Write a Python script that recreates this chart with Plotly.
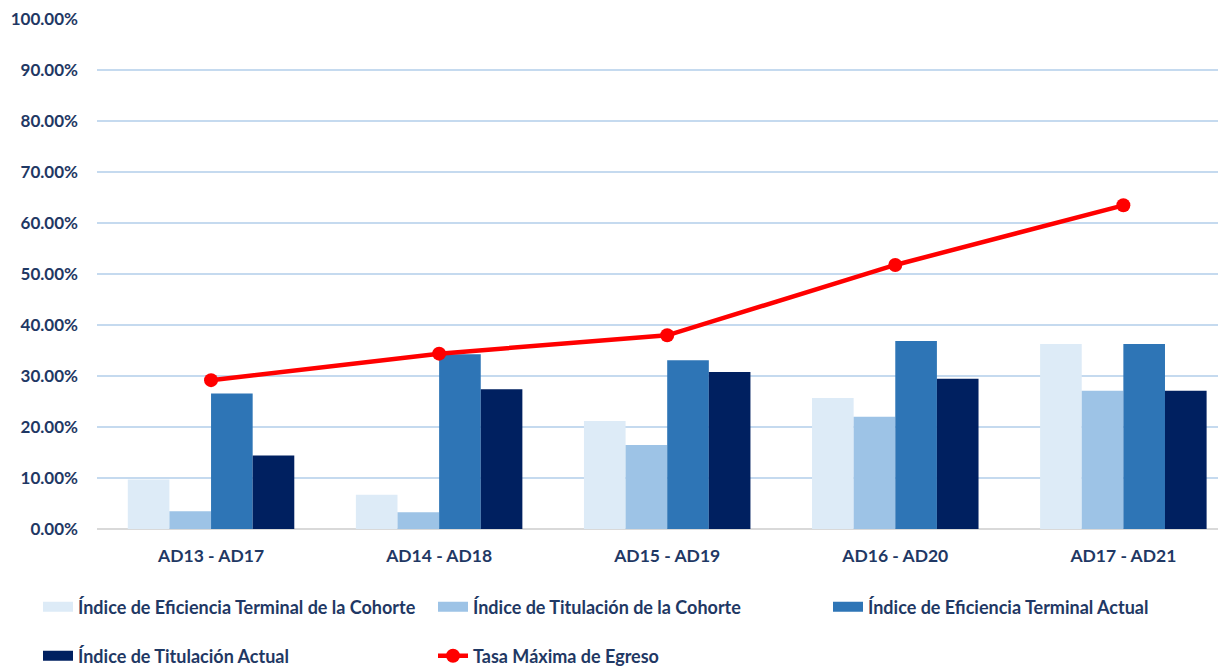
import plotly.graph_objects as go

categories = ["AD13 - AD17", "AD14 - AD18", "AD15 - AD19", "AD16 - AD20", "AD17 - AD21"]
ef_cohorte = [0.097, 0.067, 0.212, 0.257, 0.363]
tit_cohorte = [0.035, 0.033, 0.165, 0.220, 0.271]
ef_actual = [0.266, 0.343, 0.331, 0.369, 0.363]
tit_actual = [0.144, 0.274, 0.308, 0.295, 0.271]
tasa_max = [0.292, 0.344, 0.380, 0.518, 0.635]
y_ticks = [0.0, 0.1, 0.2, 0.3, 0.4, 0.5, 0.6, 0.7, 0.8, 0.9, 1.0]

names = ["Índice de Eficiencia Terminal de la Cohorte", "Índice de Titulación de la Cohorte",
         "Índice de Eficiencia Terminal Actual", "Índice de Titulación Actual"]
colors = ["#DDEBF7", "#9DC3E6", "#2E75B6", "#002060"]
series = [ef_cohorte, tit_cohorte, ef_actual, tit_actual]
legends = ["legend", "legend", "legend3", "legend2"]

FONT = "Lato"
TXT = "#1F3864"
W, H = 1218, 658  # page body has an 8px margin

fig = go.Figure()
for n, c, s, lg in zip(names, colors, series, legends):
    fig.add_trace(go.Bar(x=categories, y=s, name=n, marker=dict(color=c, line=dict(width=0)),
                         showlegend=False, legendgroup=n))
for n, c, lg in zip(names, colors, legends):
    # legend-only proxy so the key is a wide rectangle like the original
    fig.add_trace(go.Scatter(x=[None], y=[None], name=n, mode="lines", legendgroup=n,
                             line=dict(color=c, width=12), legend=lg, hoverinfo="skip"))
fig.add_trace(go.Scatter(x=categories, y=tasa_max, name="Tasa Máxima de Egreso", mode="lines+markers",
                         line=dict(color="#FF0000", width=4.5), marker=dict(color="#FF0000", size=14),
                         legend="legend2"))

legfont = dict(family=FONT, size=18, color=TXT, weight="bold")
common = dict(orientation="h", xref="container", yref="container", xanchor="left", yanchor="middle",
              font=legfont, entrywidth=350, entrywidthmode="pixels", bgcolor="rgba(0,0,0,0)",
              traceorder="normal")
fig.update_layout(
    width=W, height=H,
    margin=dict(l=89, r=0, t=11, b=137),
    paper_bgcolor="white", plot_bgcolor="white",
    barmode="group", bargap=0.27, bargroupgap=0,
    font=dict(family=FONT, size=15, color=TXT, weight="bold"),
    xaxis=dict(type="category", range=[-0.5, 4.45], showgrid=False, showline=False, automargin=False,
               ticks="", ticklabelstandoff=14,
               tickfont=dict(family=FONT, size=17.5, color=TXT, weight="bold")),
    yaxis=dict(range=[0, 1.0005], tickmode="array", tickvals=y_ticks, tickformat=".2%",
               showgrid=True, gridcolor="#C5DAEF",
               gridwidth=1.5, zeroline=True, zerolinecolor="#D9D9D9", zerolinewidth=2,
               showline=False, ticks="", ticklabelstandoff=18, automargin=False,
               tickfont=dict(family=FONT, size=17, color=TXT, weight="bold")),
    legend=dict(x=30 / W, y=1 - 599 / H, **common),
    legend3=dict(x=820 / W, y=1 - 599 / H, **common),
    legend2=dict(x=30 / W, y=1 - 648 / H, **common),
)
fig.write_html("out.html")
